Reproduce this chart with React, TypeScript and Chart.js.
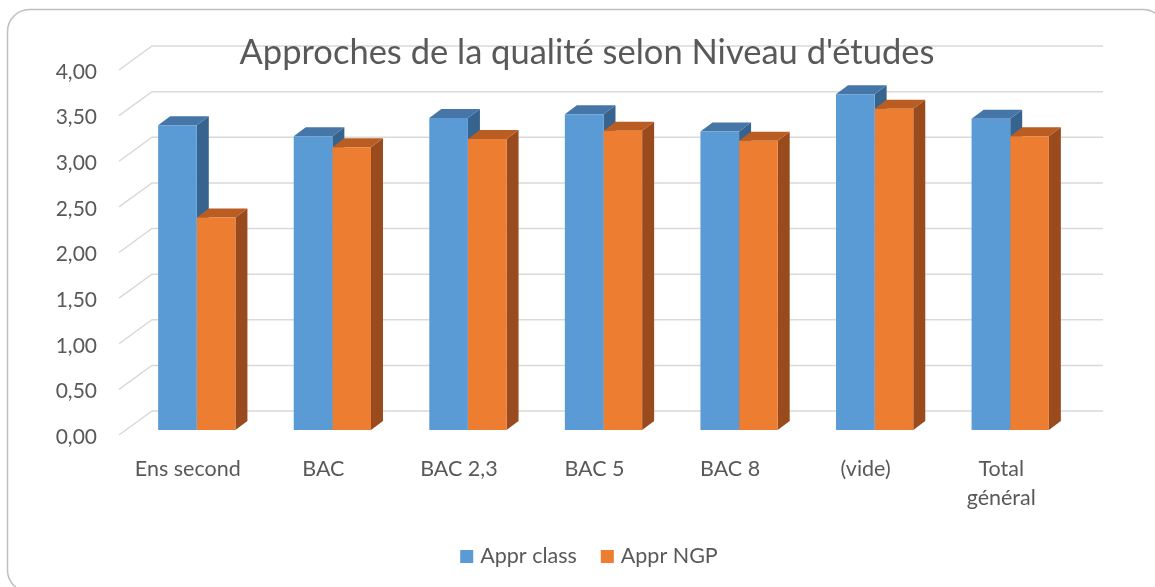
import React, { useEffect, useRef } from "react";
import { Chart, registerables } from "chart.js";

Chart.register(...registerables);

const TITLE = "Approches de la qualité selon Niveau d'études";
const categories: (string | string[])[] = [
  "Ens second",
  "BAC",
  "BAC 2,3",
  "BAC 5",
  "BAC 8",
  "(vide)",
  ["Total", "général"],
];
const seriesNames = ["Appr class", "Appr NGP"];
const apprClass = [3.34, 3.22, 3.42, 3.46, 3.27, 3.68, 3.41];
const apprNGP = [2.33, 3.1, 3.19, 3.28, 3.17, 3.52, 3.22];
const yTicks = [0, 0.5, 1, 1.5, 2, 2.5, 3, 3.5, 4];

const FONT = "Lato, 'Open Sans', sans-serif";
const TEXT = "#595959";
const FRONT = ["#5B9BD5", "#ED7D31"];
const TOP = ["#4676A8", "#B95D22"];
const SIDE = ["#36648E", "#9A4B1E"];

const DX = 12; // bar depth (x)
const DY = 9; // bar depth (y)

const decorPlugin = {
  id: "decor3d",
  beforeDraw(chart: any) {
    const ctx = chart.ctx;
    ctx.save();
    ctx.fillStyle = "#ffffff";
    ctx.fillRect(0, 0, chart.width, chart.height);
    // rounded border
    const x = 7.5, y = 9.5, w = 1165 - 7.5, h = 592 - 9.5, r = 22;
    ctx.beginPath();
    ctx.moveTo(x + r, y);
    ctx.lineTo(x + w - r, y);
    ctx.arcTo(x + w, y, x + w, y + r, r);
    ctx.lineTo(x + w, y + h - r);
    ctx.arcTo(x + w, y + h, x + w - r, y + h, r);
    ctx.lineTo(x + r, y + h);
    ctx.arcTo(x, y + h, x, y + h - r, r);
    ctx.lineTo(x, y + r);
    ctx.arcTo(x, y, x + r, y, r);
    ctx.closePath();
    ctx.strokeStyle = "#BFBFBF";
    ctx.lineWidth = 1.5;
    ctx.stroke();
    ctx.restore();
  },
  beforeDatasetsDraw(chart: any) {
    const ctx = chart.ctx;
    const ys = chart.scales.y;
    const area = chart.chartArea;
    ctx.save();
    // gridlines: front-left diagonal + back wall line
    ctx.strokeStyle = "#D9D9D9";
    ctx.lineWidth = 1.5;
    yTicks.forEach((v) => {
      const yb = ys.getPixelForValue(v);
      const frontX = area.left - 10;
      const backX = area.left + 23;
      ctx.beginPath();
      ctx.moveTo(frontX, yb + 5);
      ctx.lineTo(backX, yb - 19);
      ctx.lineTo(area.right + 25, yb - 19);
      ctx.stroke();
    });
    // 3D faces (sides, tops); fronts are drawn by Chart.js afterwards
    const metas = [chart.getDatasetMeta(0), chart.getDatasetMeta(1)];
    for (let i = 0; i < categories.length; i++) {
      metas.forEach((meta, d) => {
        const el = meta.data[i];
        if (!el) return;
        const p = el.getProps(["x", "y", "base", "width"], true);
        const l = p.x - p.width / 2;
        const rr = p.x + p.width / 2;
        const top = p.y;
        const bot = p.base;
        // side face
        ctx.fillStyle = SIDE[d];
        ctx.beginPath();
        ctx.moveTo(rr, top);
        ctx.lineTo(rr + DX, top - DY);
        ctx.lineTo(rr + DX, bot - DY);
        ctx.lineTo(rr, bot);
        ctx.closePath();
        ctx.fill();
        // top face
        ctx.fillStyle = TOP[d];
        ctx.beginPath();
        ctx.moveTo(l, top);
        ctx.lineTo(l + DX, top - DY);
        ctx.lineTo(rr + DX, top - DY);
        ctx.lineTo(rr, top);
        ctx.closePath();
        ctx.fill();
      });
    }
    ctx.restore();
  },
  afterDraw(chart: any) {
    const ctx = chart.ctx;
    ctx.save();
    // title
    ctx.fillStyle = TEXT;
    ctx.font = `34.5px ${FONT}`;
    ctx.textAlign = "center";
    ctx.textBaseline = "alphabetic";
    ctx.fillText(TITLE, 587, 64);
    // legend
    ctx.font = `21.5px ${FONT}`;
    ctx.textAlign = "left";
    const box = 13, gapText = 7, gapItem = 24;
    const widths = seriesNames.map((s) => ctx.measureText(s).width);
    const total = widths.reduce((a, b) => a + b, 0) + seriesNames.length * (box + gapText) + gapItem * (seriesNames.length - 1);
    let lx = 589 - total / 2;
    seriesNames.forEach((s, i) => {
      ctx.fillStyle = FRONT[i];
      ctx.fillRect(lx, 550, box, box);
      lx += box + gapText;
      ctx.fillStyle = TEXT;
      ctx.fillText(s, lx, 563);
      lx += widths[i] + gapItem;
    });
    ctx.restore();
  },
};

export default function App() {
  const ref = useRef<HTMLCanvasElement | null>(null);
  useEffect(() => {
    if (!ref.current) return;
    const chart = new Chart(ref.current, {
      type: "bar",
      data: {
        labels: categories,
        datasets: [
          {
            label: seriesNames[0],
            data: apprClass,
            backgroundColor: FRONT[0],
            borderWidth: 0,
            barPercentage: 1,
            categoryPercentage: 0.57,
          },
          {
            label: seriesNames[1],
            data: apprNGP,
            backgroundColor: FRONT[1],
            borderWidth: 0,
            barPercentage: 1,
            categoryPercentage: 0.57,
          },
        ],
      },
      options: {
        animation: false,
        responsive: false,
        maintainAspectRatio: false,
        layout: { padding: { left: 0, top: 65, right: 77, bottom: 0 } },
        plugins: {
          legend: { display: false },
          title: { display: false },
          tooltip: { enabled: false },
        },
        scales: {
          x: {
            grid: { display: false, drawTicks: false },
            border: { display: false },
            ticks: {
              color: TEXT,
              font: { family: FONT, size: 21.5, lineHeight: 29 / 21.5 },
              padding: 25,
              labelOffset: -9,
              maxRotation: 0,
              autoSkip: false,
            },
            afterFit: (s: any) => {
              s.height = 157;
            },
          },
          y: {
            min: 0,
            max: 4,
            grid: { display: false, drawTicks: false },
            border: { display: false },
            ticks: {
              stepSize: 0.5,
              color: TEXT,
              font: { family: FONT, size: 21 },
              padding: 32,
              labelOffset: 7,
              callback: (v: any) => Number(v).toFixed(2).replace(".", ","),
            },
            afterFit: (s: any) => {
              s.width = 129;
            },
          },
        },
      },
      plugins: [decorPlugin],
    });
    return () => chart.destroy();
  }, []);
  return (
    <div style={{ position: "fixed", left: 0, top: 0, width: 1155, height: 587 }}>
      <canvas ref={ref} width={1155} height={587} style={{ width: 1155, height: 587, display: "block" }} />
    </div>
  );
}
